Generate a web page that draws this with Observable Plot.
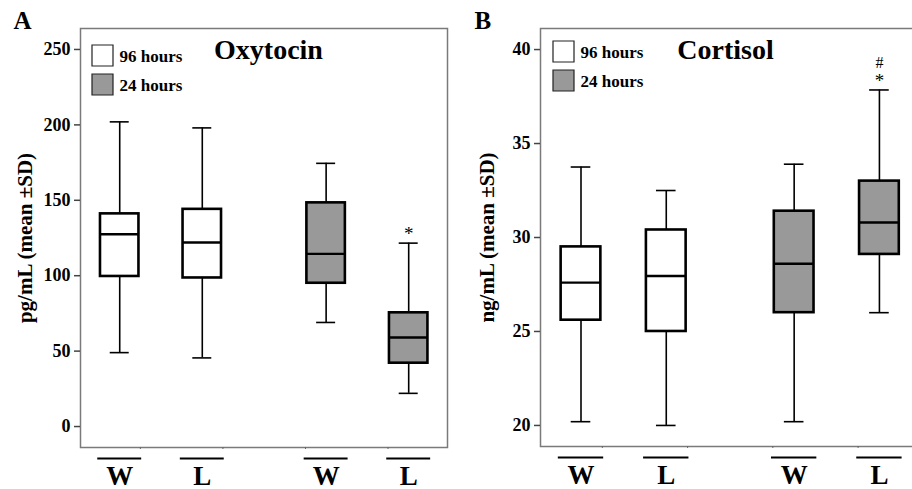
<!DOCTYPE html>
<html>
<head>
<meta charset="utf-8">
<script src="https://cdn.jsdelivr.net/npm/d3@7"></script>
<script src="https://cdn.jsdelivr.net/npm/@observablehq/plot@0.6"></script>
<style>
  html, body { margin: 0; padding: 0; background: white; }
  body { width: 912px; height: 489px; overflow: hidden; }
  #wrap { display: flex; flex-direction: row; width: 940px; height: 489px; }
  #wrap svg { flex: none; display: block; }
</style>
</head>
<body>
<div id="wrap"></div>
<script>
// ---- data ----
const groups = ["W", "L", "W", "L"];
const durations = ["96 hours", "96 hours", "24 hours", "24 hours"];
const positions = [0.75, 1.75, 3.25, 4.25];
const legendLabels = ["96 hours", "24 hours"];

const oxyMin = [49, 45.5, 69, 22];
const oxyQ1 = [99.5, 98.5, 95, 42];
const oxyMed = [127.5, 122, 114.5, 59];
const oxyQ3 = [141, 144, 148.3, 75.4];
const oxyMax = [202, 198, 174.5, 121.6];
const oxySig = ["", "", "", "*"];
const oxySig2 = ["", "", "", ""];
const oxyTicks = [0, 50, 100, 150, 200, 250];

const cortMin = [20.2, 20.0, 20.2, 26.0];
const cortQ1 = [25.6, 25.0, 26.0, 29.1];
const cortMed = [27.6, 27.95, 28.6, 30.8];
const cortQ3 = [29.5, 30.4, 31.4, 33.0];
const cortMax = [33.75, 32.5, 33.9, 37.85];
const cortSig = ["", "", "", "*"];
const cortSig2 = ["", "", "", "#"];
const cortTicks = [20, 25, 30, 35, 40];

const GRAY = "#999999";
const FONT = "'Liberation Serif', 'Times New Roman', serif";

function panel(o) {
  const rows = groups.map((g, i) => ({
    g, dur: durations[i], pos: positions[i],
    min: o.mins[i], q1: o.q1s[i], med: o.meds[i], q3: o.q3s[i], max: o.maxs[i],
    sig: o.sig[i], sig2: o.sig2[i]
  }));
  const BW = 0.233, CW = 0.115, UW = 0.266;
  const white = rows.filter(d => d.dur === legendLabels[0]);
  const gray = rows.filter(d => d.dur === legendLabels[1]);
  return Plot.plot({
    width: o.width, height: 489,
    marginLeft: o.ml, marginRight: o.mr, marginTop: 28, marginBottom: o.mb,
    x: {domain: [0.275, 4.72]},
    y: {domain: o.yDomain},
    style: {fontFamily: FONT, background: "white", color: "black", overflow: "visible"},
    marks: [
      Plot.frame({stroke: "#7a7a7a", strokeWidth: 1.5}),
      Plot.axisY({ticks: o.ticks, tickSize: 6, tickPadding: 4, fontSize: 18, fontWeight: "bold",
                  label: null, stroke: "#444", strokeWidth: 1.5}),
      Plot.axisX({ticks: [1, 2, 3, 4], tickSize: 2, tickFormat: () => "", label: null, stroke: "#666"}),
      // whiskers
      Plot.ruleX(rows, {x: "pos", y1: "min", y2: "q1", stroke: "black", strokeWidth: 1.6}),
      Plot.ruleX(rows, {x: "pos", y1: "q3", y2: "max", stroke: "black", strokeWidth: 1.6}),
      Plot.ruleY(rows, {y: "min", x1: d => d.pos - CW, x2: d => d.pos + CW, stroke: "black", strokeWidth: 1.6}),
      Plot.ruleY(rows, {y: "max", x1: d => d.pos - CW, x2: d => d.pos + CW, stroke: "black", strokeWidth: 1.6}),
      // boxes
      Plot.rect(white, {x1: d => d.pos - BW, x2: d => d.pos + BW, y1: "q1", y2: "q3",
                        fill: "white", stroke: "black", strokeWidth: 2.6}),
      Plot.rect(gray, {x1: d => d.pos - BW, x2: d => d.pos + BW, y1: "q1", y2: "q3",
                       fill: GRAY, stroke: "black", strokeWidth: 2.6}),
      Plot.ruleY(rows, {y: "med", x1: d => d.pos - BW, x2: d => d.pos + BW, stroke: "black", strokeWidth: 2.4}),
      // significance marks
      Plot.text(rows, {x: "pos", y: "max", text: "sig", dy: -3, lineAnchor: "bottom", fontSize: 19, fontFamily: FONT}),
      Plot.text(rows, {x: "pos", y: "max", text: "sig2", dy: -22, lineAnchor: "bottom", fontSize: 16, fontFamily: FONT}),
      // category underlines and labels
      Plot.ruleY(rows, {y: () => o.yDomain[0], x1: d => d.pos - UW, x2: d => d.pos + UW, dy: 11, stroke: "black", strokeWidth: 2.2}),
      Plot.text(rows, {x: "pos", text: "g", frameAnchor: "bottom", dy: 37, lineAnchor: "bottom", textAnchor: "middle",
                       fontSize: 27, fontWeight: "bold", fontFamily: FONT}),
      // legend
      Plot.dot([legendLabels[0]], {frameAnchor: "top-left", dx: o.lgDx, dy: o.lgDy, symbol: "square", r: 11.85,
                                   fill: "white", stroke: "#222", strokeWidth: 1.2}),
      Plot.dot([legendLabels[1]], {frameAnchor: "top-left", dx: o.lgDx, dy: o.lgDy + 29, symbol: "square", r: 11.85,
                                   fill: GRAY, stroke: "#222", strokeWidth: 1.2}),
      Plot.text([legendLabels[0]], {frameAnchor: "top-left", dx: o.lgDx + 17, dy: o.lgDy + 6, text: d => d,
                                    textAnchor: "start", lineAnchor: "bottom", fontSize: 17, fontWeight: "bold", fontFamily: FONT}),
      Plot.text([legendLabels[1]], {frameAnchor: "top-left", dx: o.lgDx + 17, dy: o.lgDy + 35, text: d => d,
                                    textAnchor: "start", lineAnchor: "bottom", fontSize: 17, fontWeight: "bold", fontFamily: FONT}),
      // title
      Plot.text([o.title], {frameAnchor: "top-left", dx: o.titleDx, dy: 30, text: d => d, lineAnchor: "bottom",
                            textAnchor: "middle", fontSize: 28, fontWeight: "bold", fontFamily: FONT}),
      // panel letter
      Plot.text([o.letter], {frameAnchor: "top-left", dx: o.letterDx, dy: 0, text: d => d, textAnchor: "start",
                             lineAnchor: "bottom", fontSize: 25, fontWeight: "bold", fontFamily: FONT}),
      // y label
      Plot.text([o.yLabel], {frameAnchor: "left", dx: o.ylDx, rotate: -90, text: d => d, textAnchor: "middle",
                             lineAnchor: "middle", fontSize: 21, fontWeight: "bold", fontFamily: FONT})
    ]
  });
}

const wrap = document.getElementById("wrap");
wrap.append(panel({
  mins: oxyMin, q1s: oxyQ1, meds: oxyMed, q3s: oxyQ3, maxs: oxyMax, sig: oxySig, sig2: oxySig2,
  ticks: oxyTicks, yDomain: [-13.9, 263.9], yLabel: "pg/mL (mean ±SD)", title: "Oxytocin", letter: "A",
  width: 456, ml: 80, mr: 9, mb: 42, lgDx: 22, lgDy: 27, letterDx: -67, ylDx: -55, titleDx: 188
}));
wrap.append(panel({
  mins: cortMin, q1s: cortQ1, meds: cortMed, q3s: cortQ3, maxs: cortMax, sig: cortSig, sig2: cortSig2,
  ticks: cortTicks, yDomain: [18.88, 41.12], yLabel: "ng/mL (mean ±SD)", title: "Cortisol", letter: "B",
  width: 467, ml: 84, mr: 4, mb: 43, lgDx: 23, lgDy: 23, letterDx: -66, ylDx: -53, titleDx: 185
}));
</script>
</body>
</html>
